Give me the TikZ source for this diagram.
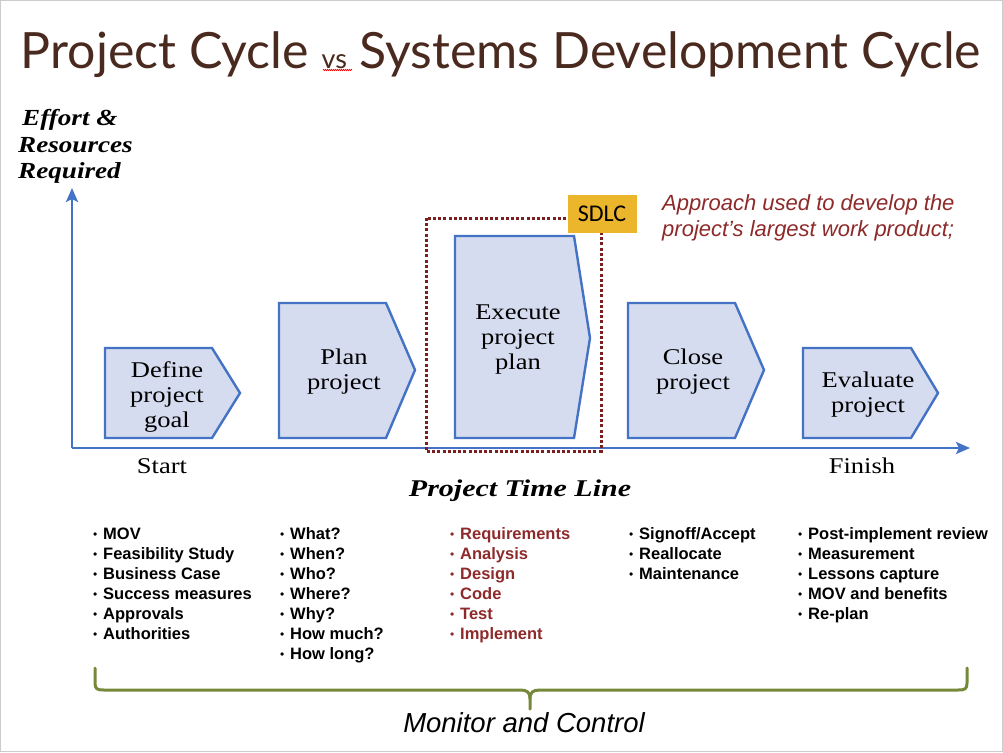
\documentclass[tikz,border=0pt]{standalone}
\usepackage{fontspec}
\setmainfont{Liberation Serif}
\setsansfont{Liberation Sans}
\newfontfamily\titlefont{Lato}
\newfontfamily\sdlcfont{Carlito}
\usetikzlibrary{arrows.meta,decorations.pathmorphing}
\definecolor{titlebrown}{HTML}{4A2A1F}
\definecolor{axisblue}{HTML}{4472C4}
\definecolor{stagefill}{HTML}{D6DCF0}
\definecolor{sdlcred}{HTML}{7B1F1F}
\definecolor{notered}{HTML}{8E2A2A}
\definecolor{sdlcyellow}{HTML}{EBB52C}
\definecolor{braceolive}{HTML}{76893A}
\tikzset{
  axisline/.style={draw=axisblue, line width=2.6pt, -{Stealth[length=14pt,width=12pt,inset=3pt]}},
  stagebox/.style={draw=axisblue, fill=stagefill, line width=2.4pt, line join=miter},
  stagetext/.style={font=\fontsize{22.5}{25}\selectfont, align=center, inner sep=0pt},
  sdlcborder/.style={draw=sdlcred, line width=3pt, dash pattern=on 3pt off 2.2pt},
  bul/.style={font=\sffamily\bfseries\fontsize{16.5}{20}\selectfont, anchor=base west, inner sep=0pt},
  axislabel/.style={font=\bfseries\itshape\fontsize{23}{26}\selectfont, inner sep=0pt},
  brace/.style={draw=braceolive, line width=3pt, line cap=round, line join=round},
}
\newcommand{\bt}{\makebox[10pt][l]{\mdseries\fontsize{12}{12}\selectfont\raisebox{0.5pt}{•}}}
\newcommand{\wide}[1]{\scalebox{1.18}[1]{#1}}
\begin{document}
\begin{tikzpicture}[x=1pt,y=-1pt]
\useasboundingbox (0,0) rectangle (1003,752);
\fill[white] (0,0) rectangle (1003,752);
\draw[black!20, line width=1pt] (0.5,0.5) rectangle (1002.5,751.5);

% title
\node[anchor=base, text=titlebrown, inner sep=0pt,
  font=\titlefont\fontsize{50}{60}\selectfont] (title) at (501,68)
  {Project Cycle {\fontsize{27}{30}\selectfont vs} Systems Development Cycle};
\draw[red, line width=0.6pt, decorate, decoration={zigzag, segment length=2pt, amplitude=0.7pt}]
  (323,70) -- (352,70);

% y label
\node[axislabel, anchor=base west] (ylab1) at (22,125) {\wide{Effort \&}};
\node[axislabel, anchor=base west] (ylab2) at (18,152) {\wide{Resources}};
\node[axislabel, anchor=base west] (ylab3) at (18,178) {\wide{Required}};

% stages
\draw[stagebox] (105,348) -- (212,348) -- (240,393) -- (212,438) -- (105,438) -- cycle;
\draw[stagebox] (279,303) -- (386,303) -- (415,370) -- (386,438) -- (279,438) -- cycle;
\draw[stagebox] (455,236) -- (574,236) -- (590,338) -- (574,438) -- (455,438) -- cycle;
\draw[stagebox] (628,303) -- (735,303) -- (764,370) -- (735,438) -- (628,438) -- cycle;
\draw[stagebox] (803,348) -- (911,348) -- (938,393) -- (911,438) -- (803,438) -- cycle;

\node[stagetext] (s1) at (167,397) {\wide{Define}\\\wide{project}\\\wide{goal}};
\node[stagetext] (s2) at (344,372) {\wide{Plan}\\\wide{project}};
\node[stagetext] (s3) at (518,340) {\wide{Execute}\\\wide{project}\\\wide{plan}};
\node[stagetext] (s4) at (693,372) {\wide{Close}\\\wide{project}};
\node[stagetext] (s5) at (868,395) {\wide{Evaluate}\\\wide{project}};

% axes
\coordinate (origin) at (72,448);
\coordinate (ytop) at (72,188);
\coordinate (xend) at (970,448);
\draw[axisline] (origin) -- (ytop);
\draw[axisline] (origin) -- (xend);

% SDLC region
\draw[sdlcborder] (426,218) rectangle (601,451);
\node[fill=sdlcyellow, minimum width=69pt, minimum height=38pt, inner sep=0pt,
  font=\sdlcfont\fontsize{24}{26}\selectfont] (sdlc) at (602,213.5) {SDLC};
\node[anchor=base west, inner sep=0pt, text=notered, align=left,
  font=\sffamily\itshape\fontsize{22}{26}\selectfont] (approach) at (662,236)
  {Approach used to develop the\\project’s largest work product;};

% axis texts
\node[font=\fontsize{22.5}{24}\selectfont, anchor=base, inner sep=0pt] (start) at (162,473) {\wide{Start}};
\node[font=\fontsize{22.5}{24}\selectfont, anchor=base, inner sep=0pt] (finish) at (862,473) {\wide{Finish}};
\node[axislabel, anchor=base, font=\bfseries\itshape\fontsize{24}{26}\selectfont] (timeline) at (520,496) {\scalebox{1.25}[1]{Project Time Line}};

% bullet columns
\foreach \t [count=\i] in {MOV,Feasibility Study,Business Case,Success measures,Approvals,Authorities}
  \node[bul] (a\i) at (93,519+20*\i) {\bt\t};
\foreach \t [count=\i] in {What?,When?,Who?,Where?,Why?,How much?,How long?}
  \node[bul] (b\i) at (280,519+20*\i) {\bt\t};
\foreach \t [count=\i] in {Requirements,Analysis,Design,Code,Test,Implement}
  \node[bul, text=notered] (c\i) at (450,519+20*\i) {\bt\t};
\foreach \t [count=\i] in {Signoff/Accept,Reallocate,Maintenance}
  \node[bul] (d\i) at (629,519+20*\i) {\bt\t};
\foreach \t [count=\i] in {Post-implement review,Measurement,Lessons capture,MOV and benefits,Re-plan}
  \node[bul] (e\i) at (798,519+20*\i) {\bt\t};

% brace
\draw[brace] (95,668) -- (95,683) .. controls (95,689) and (97,690) .. (104,690)
  -- (520,690) .. controls (527,690) and (530,692) .. (530,699) -- (530,709);
\draw[brace] (530,699) .. controls (530,692) and (533,690) .. (540,690)
  -- (958,690) .. controls (965,690) and (967,689) .. (967,683) -- (967,668);
\node[font=\sffamily\itshape\fontsize{27.5}{30}\selectfont, anchor=base, inner sep=0pt] (monitor) at (524,732) {Monitor and Control};
\end{tikzpicture}
\end{document}
